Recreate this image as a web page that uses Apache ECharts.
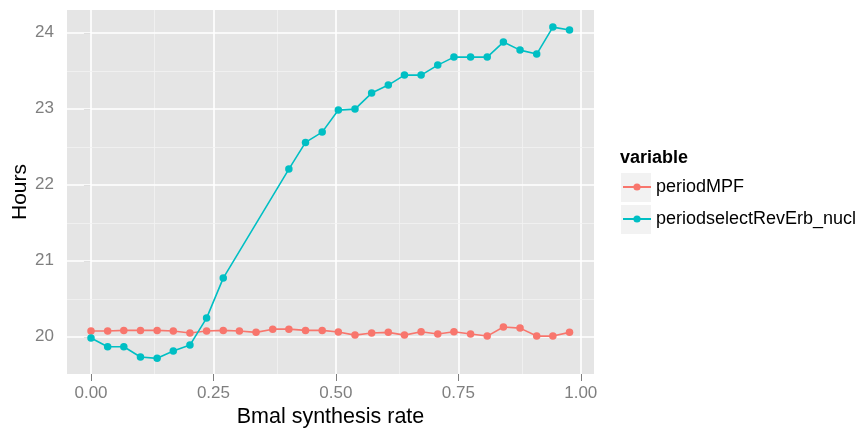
<!DOCTYPE html>
<html>
<head>
<meta charset="utf-8">
<script src="https://cdn.jsdelivr.net/npm/echarts@6/dist/echarts.min.js"></script>
<style>
html,body{margin:0;padding:0;background:#fff;}
#chart{width:862px;height:433px;}
</style>
</head>
<body>
<div id="chart"></div>
<script>
// ---- data ----
const xValues = [0, 0.034, 0.067, 0.101, 0.135, 0.168, 0.202, 0.236, 0.270, 0.303,
  0.337, 0.371, 0.404, 0.438, 0.472, 0.505, 0.539, 0.573, 0.607, 0.640,
  0.674, 0.708, 0.741, 0.775, 0.809, 0.842, 0.876, 0.910, 0.943, 0.977];
const periodMPF = [20.075, 20.075, 20.084, 20.084, 20.084, 20.075, 20.049, 20.075, 20.084, 20.075,
  20.058, 20.100, 20.100, 20.084, 20.084, 20.062, 20.022, 20.049, 20.058, 20.022,
  20.066, 20.036, 20.066, 20.036, 20.009, 20.128, 20.114, 20.009, 20.009, 20.058];
const periodRevErb = [19.983, 19.868, 19.868, 19.733, 19.716, 19.812, 19.891, 20.246, 20.772, null,
  null, null, 22.207, 22.558, 22.693, 22.983, 22.996, 23.207, 23.312, 23.443,
  23.443, 23.575, 23.680, 23.680, 23.680, 23.878, 23.772, 23.720, 24.075, 24.036];
const seriesNames = ['periodMPF', 'periodselectRevErb_nucl'];
const xTicks = [0, 0.25, 0.5, 0.75, 1.0];
const xMinorTicks = [0.125, 0.375, 0.625, 0.875];
const yTicks = [20, 21, 22, 23, 24];
const yMinorTicks = [20.5, 21.5, 22.5, 23.5];
const xRange = [-0.049, 1.027];
const yRange = [19.51, 24.30];

// ---- build ----
const FONT = '"Liberation Sans", Arial, sans-serif';
const colors = ['#F8766D', '#00BFC4'];
const toPairs = arr => xValues.map((x, i) => [x, arr[i]]).filter(p => p[1] !== null);

const gridLines = [];
xTicks.forEach(v => gridLines.push({xAxis: v, lineStyle: {color: '#ffffff', width: 1.6, type: 'solid'}}));
xMinorTicks.forEach(v => gridLines.push({xAxis: v, lineStyle: {color: '#f2f2f2', width: 0.8, type: 'solid'}}));
yTicks.forEach(v => gridLines.push({yAxis: v, lineStyle: {color: '#ffffff', width: 1.6, type: 'solid'}}));
yMinorTicks.forEach(v => gridLines.push({yAxis: v, lineStyle: {color: '#f2f2f2', width: 0.8, type: 'solid'}}));

const chart = echarts.init(document.getElementById('chart'), null, {renderer: 'canvas'});
chart.setOption({
  animation: false,
  backgroundColor: '#ffffff',
  textStyle: {fontFamily: FONT},
  title: {
    text: 'variable', left: 620, top: 149, padding: 0,
    textStyle: {fontFamily: FONT, fontSize: 18, fontWeight: 'bold', color: '#000000'}
  },
  grid: {left: 67, right: 268, top: 10, bottom: 59, show: true, backgroundColor: '#e5e5e5', borderWidth: 0,
    containLabel: false, outerBoundsMode: 'none'},
  legend: {
    orient: 'vertical', left: 622, top: 171, padding: 0, itemGap: 0,
    itemWidth: 28, itemHeight: 9,
    data: seriesNames,
    textStyle: {fontFamily: FONT, fontSize: 18, color: '#000000', lineHeight: 32}
  },
  graphic: [
    {type: 'rect', left: 621, top: 173, shape: {width: 30, height: 29}, style: {fill: '#f2f2f2'}, z: -1},
    {type: 'rect', left: 621, top: 205, shape: {width: 30, height: 29}, style: {fill: '#f2f2f2'}, z: -1}
  ],
  xAxis: {
    type: 'value', min: xRange[0], max: xRange[1],
    name: 'Bmal synthesis rate', nameLocation: 'middle', nameGap: 32, nameMoveOverlap: false,
    nameTextStyle: {fontFamily: FONT, fontSize: 21.5, color: '#000000'},
    axisLine: {show: false},
    axisTick: {show: true, length: 7, customValues: xTicks, lineStyle: {color: '#7f7f7f', width: 1}},
    axisLabel: {customValues: xTicks, margin: 11, fontFamily: FONT, fontSize: 17, color: '#7f7f7f',
      formatter: v => v.toFixed(2)},
    splitLine: {show: false}, minorSplitLine: {show: false}
  },
  yAxis: {
    type: 'value', min: yRange[0], max: yRange[1],
    name: 'Hours', nameLocation: 'middle', nameGap: 36, nameMoveOverlap: false,
    nameTextStyle: {fontFamily: FONT, fontSize: 21, color: '#000000'},
    axisLine: {show: false},
    axisTick: {show: true, length: 7, customValues: yTicks, lineStyle: {color: '#7f7f7f', width: 1}},
    axisLabel: {customValues: yTicks, margin: 13, fontFamily: FONT, fontSize: 17, color: '#7f7f7f',
      formatter: v => String(Math.round(v))},
    splitLine: {show: false}, minorSplitLine: {show: false}
  },
  series: [
    {
      name: '__grid', type: 'scatter', data: [], silent: true, z: 1,
      markLine: {silent: true, z: 1, symbol: ['none', 'none'], label: {show: false}, animation: false,
        emphasis: {disabled: true}, data: gridLines}
    },
    {
      name: seriesNames[0], type: 'line', data: toPairs(periodMPF), z: 3,
      color: colors[0], symbol: 'circle', symbolSize: 7.5, showSymbol: true,
      lineStyle: {width: 1.6, color: colors[0]}, itemStyle: {color: colors[0]}
    },
    {
      name: seriesNames[1], type: 'line', data: toPairs(periodRevErb), z: 3,
      color: colors[1], symbol: 'circle', symbolSize: 7.5, showSymbol: true,
      lineStyle: {width: 1.6, color: colors[1]}, itemStyle: {color: colors[1]}
    }
  ]
});
</script>
</body>
</html>
